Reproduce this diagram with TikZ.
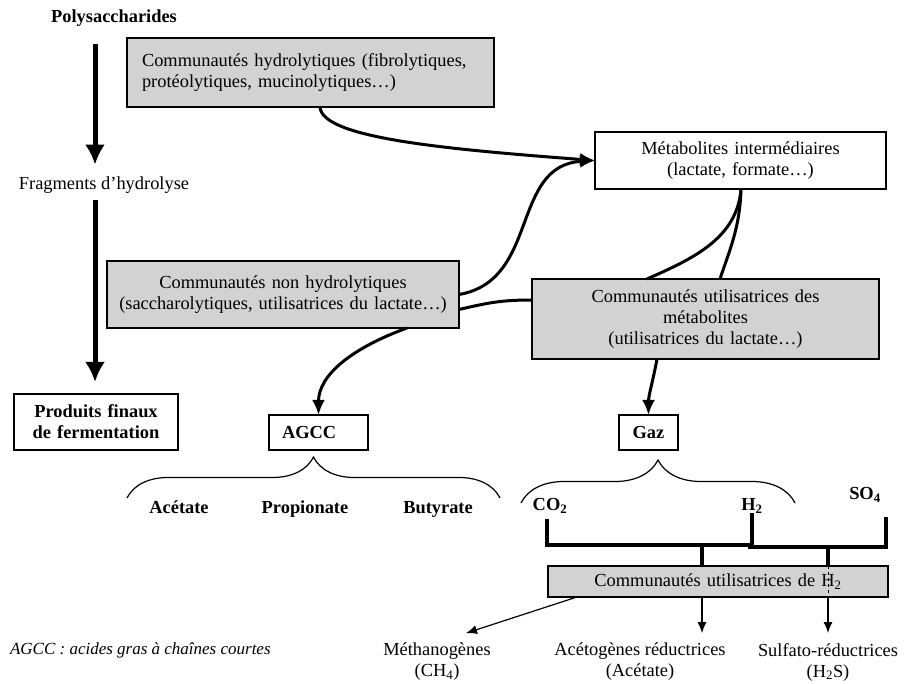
\documentclass[tikz,border=0pt]{standalone}
\usepackage{fontspec}
\setmainfont{Liberation Serif}
\usetikzlibrary{arrows.meta,decorations.pathreplacing}
\newcommand\basefont{\fontsize{18.4}{21}\selectfont}

\begin{document}
\begin{tikzpicture}[x=1pt, y=-1pt, font=\basefont]
\tikzset{ >=latex, inner sep=0pt, outer sep=0pt,
  greybox/.style={draw, fill=gray!35, line width=1.2pt, align=center},
  whitebox/.style={draw, fill=white, line width=1.2pt, align=center},
  boldtext/.style={font=\basefont\bfseries},
  bigarrow/.style={-{Latex[length=20pt,width=20pt]}, line width=5pt},
  flow/.style={line width=3pt},
  flowtip/.style={-{Latex[length=15pt,width=13pt]}, line width=3pt},
  thinarrow/.style={-{Latex[length=11pt,width=9pt]}, line width=1.2pt},
  bar/.style={line width=4pt},
  curly/.style={decorate, decoration={brace, amplitude=#1}, line width=1.2pt},
}
\useasboundingbox (0,0) rectangle (913,684);

% left column
\node [boldtext] (poly) at (114,18) {Polysaccharides};
\node (frag) at (104,185) {Fragments d’hydrolyse};
\node [whitebox, boldtext, text width=164pt, minimum height=56pt] (prod) at (96,422) {Produits finaux\\de fermentation};

\draw [bigarrow, shorten <=18pt, shorten >=12pt] ([xshift=-19pt]poly.south) -- ([xshift=-9pt]frag.north);
\draw [bigarrow, shorten <=7pt, shorten >=12pt] ([xshift=-9pt]frag.south) -- ([xshift=-1pt]prod.north);

% communities
\node [greybox, align=left, text width=337pt, inner xsep=15pt, minimum height=69pt] (hydro) at (310.5,72.5)
  {Communautés hydrolytiques (fibrolytiques,\\protéolytiques, mucinolytiques…)};
\node [whitebox, text width=291pt, minimum height=57pt] (metab) at (740.5,160.5)
  {Métabolites intermédiaires\\(lactate, formate…)};
\node [greybox, text width=352pt, minimum height=67pt] (nonhydro) at (283,294.5)
  {Communautés non hydrolytiques\\(saccharolytiques, utilisatrices du lactate…)};
\node [greybox, text width=347pt, minimum height=80pt] (utilmet) at (705.5,319)
  {Communautés utilisatrices des\\métabolites\\(utilisatrices du lactate…)};

\node [whitebox, boldtext, align=left, text width=73pt, inner xsep=13pt, minimum height=35pt] (agcc) at (318.5,432.5) {AGCC};
\node [whitebox, boldtext, text width=59pt, minimum height=35pt] (gaz) at (648.5,432.5) {Gaz};

\draw [flowtip] ([xshift=9.5pt]hydro.south) .. controls +(2,30) and +(-160,-12) .. (metab.west);
\draw [flowtip] (nonhydro.east) .. controls +(81,-14) and +(-85,5) .. (metab.west);
\draw [flow] ([yshift=-15pt]nonhydro.east) .. controls +(30,-7) and +(-30,0) .. ([yshift=19pt]utilmet.west);
\draw [flowtip] ([xshift=124pt]nonhydro.south) .. controls +(-55,20) and +(0,-40) .. (agcc.north);
\draw [flow] ([xshift=0.5pt]metab.south) .. controls +(-4,50) and +(45,-20) .. ([xshift=-58.5pt]utilmet.north);
\draw [flow] ([xshift=0.5pt]metab.south) .. controls +(-1,40) and +(8,-25) .. ([xshift=14.5pt]utilmet.north);
\draw [flowtip] ([xshift=-48.5pt]utilmet.south) .. controls +(-4,22) and +(0,-20) .. (gaz.north);

% acids
\coordinate (agccL) at (127,498);
\coordinate (agccR) at (500,498);
\draw [curly=41pt] (agccL) -- (agccR);
\node [boldtext, anchor=base] (acet) at (179,513) {Acétate};
\node [boldtext, anchor=base] (prop) at (305,513) {Propionate};
\node [boldtext, anchor=base] (buty) at (438,513) {Butyrate};

% gases
\coordinate (gazL) at (521,503);
\coordinate (gazR) at (795,503);
\draw [curly=43pt] (gazL) -- (gazR);
\node [boldtext] (co2) at (550,506) {CO\textsubscript{2}};
\node [boldtext] (htwo) at (752,506) {H\textsubscript{2}};
\node [boldtext] (sofour) at (865,495) {SO\textsubscript{4}};

\node [greybox, text width=340pt, minimum height=31pt] (utilh) at (718,581.5) {Communautés utilisatrices de H\textsubscript{2}};

\coordinate (co2foot) at (547,519);
\coordinate (htwofoot) at (752,513);
\coordinate (sofoot) at (886,517);
\coordinate (dropA) at (702,545);
\coordinate (dropB) at (828,547);
\draw [bar] (co2foot) |- (htwofoot |- dropA);
\draw [bar] (htwofoot) -- (htwofoot |- dropB);
\draw [bar] ([xshift=-4pt]htwofoot |- dropB) -| (sofoot);
\draw [bar] (dropA) -- (dropA |- utilh.north);
\draw [bar] (dropB) -- (dropB |- utilh.north);
\draw [line width=0.8pt, dashed] (dropB |- utilh.north) -- (dropB |- utilh.south);

% hydrogen users
\node [align=center] (methano) at (437,662) {Méthanogènes\\(CH\textsubscript{4})};
\node [align=center] (acetog) at (640,662) {Acétogènes réductrices\\(Acétate)};
\node [align=center] (sulfato) at (828,662) {Sulfato-réductrices\\(H\textsubscript{2}S)};

\coordinate (hmeth) at ([xshift=-141pt]utilh.south);
\coordinate (hacet) at ([xshift=-16pt]utilh.south);
\coordinate (hsulf) at (dropB |- utilh.south);
\draw [thinarrow] (hmeth) -- ([xshift=29pt,yshift=10pt]methano.north);
\draw [thinarrow, shorten >=10pt] (hacet) -- (hacet |- acetog.north);
\draw [thinarrow, shorten >=10pt] (hsulf) -- (hsulf |- sulfato.north);

\node [anchor=west, font=\fontsize{17}{21}\selectfont\itshape] (note) at (10,650) {AGCC : acides gras à chaînes courtes};

\end{tikzpicture}
\end{document}
